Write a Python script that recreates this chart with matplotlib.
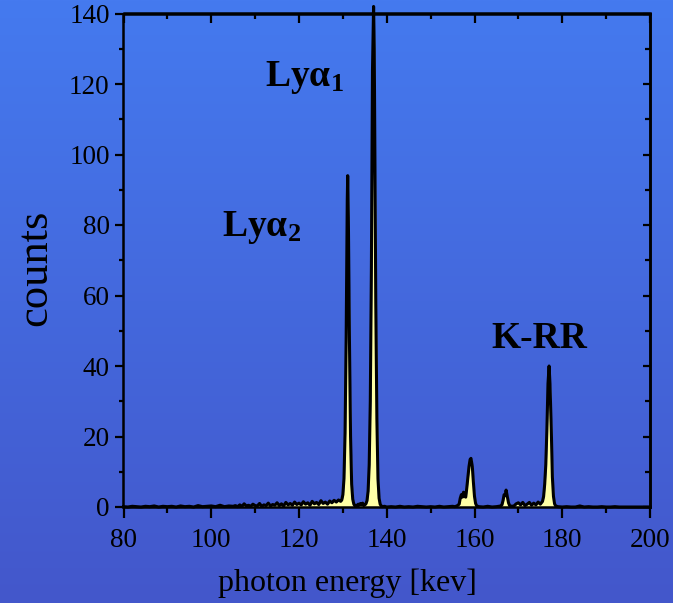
import numpy as np
import matplotlib
matplotlib.use("Agg")
import matplotlib.pyplot as plt
from matplotlib.ticker import MultipleLocator

# ---------------- data ----------------
energy = [
    80, 81, 82, 83, 84, 85, 86, 87, 88, 89, 90, 91, 92, 93, 94, 95, 96, 97, 98, 99,
    100, 101, 102, 103, 104, 105,
    105.5, 106, 106.5, 107, 107.5, 108, 108.5, 109, 109.5, 110, 110.5, 111, 111.5,
    112, 112.5, 113, 113.5, 114, 114.5, 115, 115.5, 116, 116.5, 117, 117.5, 118,
    118.5, 119, 119.5, 120, 120.5, 121, 121.5, 122, 122.5, 123, 123.5, 124, 124.5,
    125, 125.5, 126, 126.5, 127, 127.5, 128, 128.5, 129, 129.5,
    129.75, 130.0, 130.25, 130.5, 130.75, 131.0, 131.1, 131.25, 131.5, 131.75,
    132.0, 132.25, 132.5, 132.75, 133.0, 133.25, 133.5, 133.75, 134.0, 134.25,
    134.5, 134.75, 135.0, 135.25, 135.5, 135.75, 136.0, 136.25, 136.5, 136.75,
    137.0, 137.15, 137.25, 137.5, 137.75, 138.0, 138.25, 138.5, 138.75, 139.0,
    139.5, 140, 141, 142, 143, 144, 145, 146, 147, 148, 149, 150, 151, 152, 153,
    154, 155, 155.5, 156.0, 156.5, 156.75, 157.0, 157.25, 157.5, 157.75, 158.0,
    158.25, 158.5, 158.75, 159.0, 159.2, 159.5, 159.75, 160.0, 160.25, 160.5,
    161, 162, 163, 164, 165, 165.5, 166.0, 166.25, 166.5, 166.75, 167.0, 167.2,
    167.5, 167.75, 168.0, 168.5, 169, 169.5, 170, 170.5, 171, 171.5, 172, 172.5,
    173, 173.5, 174, 174.5, 175, 175.5, 175.75, 176.0, 176.25, 176.5, 176.75,
    177.0, 177.2, 177.5, 177.75, 178.0, 178.25, 178.5, 179, 180, 181, 182, 183,
    184, 185, 186, 187, 188, 189, 190, 191, 192, 193, 194, 195, 196, 197, 198,
    199, 200,
]
counts = [
    0.1, 0.0, 0.2, 0.1, 0.0, 0.2, 0.1, 0.3, 0.0, 0.2, 0.1, 0.2, 0.0, 0.3, 0.1, 0.2,
    0.0, 0.4, 0.1, 0.2, 0.3, 0.1, 0.5, 0.1, 0.3, 0.2,
    0.4, 0.1, 0.6, 0.2, 0.9, 0.3, 0.5, 0.2, 0.8, 0.4, 0.3, 1.0, 0.2, 0.6, 0.4, 1.1,
    0.3, 0.7, 0.5, 1.2, 0.4, 0.9, 0.3, 1.3, 0.6, 1.0, 0.5, 1.4, 0.7, 1.1, 0.6, 1.5,
    0.8, 1.2, 0.5, 1.6, 0.9, 1.3, 0.7, 1.8, 1.0, 1.4, 0.8, 1.7, 1.2, 1.9, 1.4, 2.0,
    1.6,
    2.0, 3.5, 8.0, 21.0, 48.0, 87.0, 94.0, 82.0, 47.0, 20.0,
    6.5, 2.2, 0.8, 0.3, 0.5, 0.3, 0.8, 0.5, 1.0, 0.6,
    1.1, 0.4, 0.6, 0.9, 1.8, 4.5, 12.0, 30.0, 68.0, 124.0,
    142.0, 130.0, 110.0, 58.0, 25.0, 8.0, 2.5, 0.8, 0.3, 0.1,
    0.2, 0.0, 0.1, 0.0, 0.2, 0.0, 0.1, 0.0, 0.2, 0.1, 0.0, 0.1, 0.0, 0.2, 0.0,
    0.1, 0.2, 0.1, 0.3, 0.8, 2.5, 3.5, 2.8, 4.2, 3.0, 2.8,
    5.5, 8.5, 11.5, 13.5, 13.8, 11.5, 7.0, 3.0, 1.0, 0.3,
    0.1, 0.0, 0.2, 0.0, 0.1, 0.2, 0.3, 0.6, 1.8, 3.5, 3.2, 4.8,
    2.8, 1.2, 0.4, 0.2, 0.3, 0.9, 1.2, 0.6, 1.3, 0.4, 0.8, 1.3,
    0.5, 1.1, 0.6, 1.4, 0.8, 1.6, 3.0, 6.5, 12.0, 22.0, 35.0,
    40.0, 35.0, 22.0, 8.5, 3.0, 0.9, 0.3, 0.1, 0.0, 0.1, 0.0, 0.0,
    0.3, 0.0, 0.1, 0.0, 0.0, 0.1, 0.0, 0.0, 0.1, 0.0, 0.0, 0.0, 0.0, 0.0, 0.0,
    0.0, 0.0,
]

x_ticks = [80, 100, 120, 140, 160, 180, 200]
y_ticks = [0, 20, 40, 60, 80, 100, 120, 140]

labels = ["Ly$\\mathregular{α_1}$", "Ly$\\mathregular{α_2}$", "K-RR"]
label_pos = [(112.2, 119.5), (102.4, 77.0), (163.9, 45.0)]

# ---------------- figure ----------------
W, H = 689, 603
fig = plt.figure(figsize=(W / 100, H / 100), dpi=100)
fig.patch.set_facecolor("white")

# gradient background (blue area ends at x=673 px)
bg = fig.add_axes([0, 0, 673 / W, 1], zorder=-10)
top_c = np.array([69, 122, 239]) / 255
bot_c = np.array([67, 87, 203]) / 255
t = np.linspace(0, 1, 256)[:, None]
grad = (top_c[None, :] * (1 - t) + bot_c[None, :] * t)[:, None, :]
bg.imshow(grad, aspect="auto", extent=[0, 1, 0, 1])
bg.set_axis_off()

L, R, T, B = 123.5, 650, 13.5, 507
ax = fig.add_axes([L / W, 1 - B / H, (R - L) / W, (B - T) / H])
ax.patch.set_alpha(0)

x = np.array(energy)
y = np.array(counts)
ax.fill_between(x + 0.12, 0, y, color="#FFFFA6", lw=0, zorder=2)
ax.plot(x, y, color="black", lw=2.2, zorder=3, clip_on=False)

ax.set_xlim(80, 200)
ax.set_ylim(0, 140)
ax.set_xticks(x_ticks)
ax.set_yticks(y_ticks)
ax.xaxis.set_minor_locator(MultipleLocator(10))
ax.yaxis.set_minor_locator(MultipleLocator(10))

for s in ax.spines.values():
    s.set_linewidth(1.8)
    s.set_color("black")

serif = "Liberation Serif"
ax.tick_params(which="both", direction="out", width=1.6, color="black",
               top=False, right=False)
ax.tick_params(axis="x", which="major", length=8, pad=7, labelsize=19.5)
ax.tick_params(axis="x", which="minor", length=4.5)
ax.tick_params(axis="y", which="major", length=6, pad=4, labelsize=19.5)
ax.tick_params(axis="y", which="minor", length=3)
for lab in ax.get_xticklabels() + ax.get_yticklabels():
    lab.set_fontfamily(serif)

# inward ticks on top / right
sec_x = ax.secondary_xaxis("top")
sec_x.set_xticks(x_ticks)
sec_x.xaxis.set_minor_locator(MultipleLocator(10))
sec_x.tick_params(which="both", direction="in", width=1.6, labeltop=False)
sec_x.tick_params(which="major", length=7)
sec_x.tick_params(which="minor", length=4)
sec_x.spines["top"].set_linewidth(1.8)
sec_y = ax.secondary_yaxis("right")
sec_y.set_yticks(y_ticks)
sec_y.yaxis.set_minor_locator(MultipleLocator(10))
sec_y.tick_params(which="both", direction="in", width=1.6, labelright=False)
sec_y.tick_params(which="major", length=5)
sec_y.tick_params(which="minor", length=3.5)
sec_y.spines["right"].set_linewidth(1.8)

fig.text(347 / W, 1 - 583 / H, "photon energy [kev]", ha="center", va="center",
         fontsize=23, family=serif)
fig.text(35 / W, 1 - 268 / H, "counts", ha="center", va="center", rotation=90,
         fontsize=32, family=serif)

for txt, (px, py) in zip(labels, label_pos):
    ax.text(px, py, txt, ha="left", va="baseline", fontsize=27,
            fontweight="bold", family=serif, zorder=5)

fig.savefig("out.png", dpi=100, facecolor=fig.get_facecolor())
